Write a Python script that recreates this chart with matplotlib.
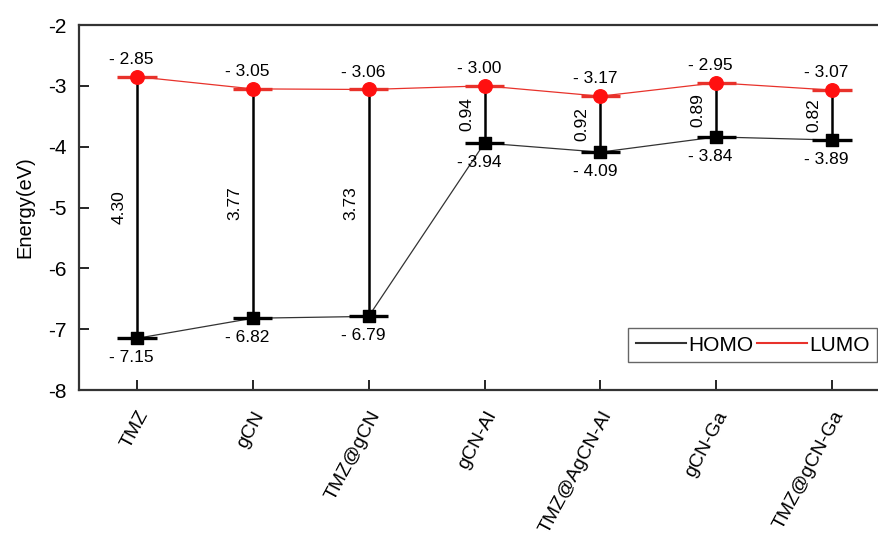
import matplotlib.pyplot as plt
import numpy as np

plt.rcParams['font.family'] = ['Liberation Sans', 'DejaVu Sans']

systems = ['TMZ', 'gCN', 'TMZ@gCN', 'gCN-Al', 'TMZ@AgCN-Al', 'gCN-Ga', 'TMZ@gCN-Ga']
homo = [-7.15, -6.82, -6.79, -3.94, -4.09, -3.84, -3.89]
lumo = [-2.85, -3.05, -3.06, -3.00, -3.17, -2.95, -3.07]
gap = [4.30, 3.77, 3.73, 0.94, 0.92, 0.89, 0.82]

x = np.arange(len(systems))

fig = plt.figure(figsize=(8.79, 5.39), dpi=100)
ax = fig.add_axes([0.0899, 0.2764, 0.9226, 0.6772])

# thin connecting lines
ax.plot(x, homo, color='#333333', lw=0.9, zorder=2, label='HOMO')
ax.plot(x, lumo, color='#e8322b', lw=0.9, zorder=2, label='LUMO')

# vertical gap lines
ax.vlines(x, homo, lumo, color='black', lw=1.8, zorder=3)

# short level bars
hw = 0.17
ax.hlines(homo, x - hw, x + hw, color='black', lw=2.4, zorder=4)
ax.hlines(lumo, x - hw, x + hw, color='#e8322b', lw=2.4, zorder=4)

ax.scatter(x, homo, marker='s', s=70, color='black', zorder=5)
ax.scatter(x, lumo, marker='o', s=95, color='#ff1010', zorder=5)

for xi, h, l, g in zip(x, homo, lumo, gap):
    ax.annotate(f'- {abs(l):.2f}', (xi, l), xytext=(-4, 12.5), textcoords='offset points',
                ha='center', va='center', fontsize=12.5)
    ax.annotate(f'- {abs(h):.2f}', (xi, h), xytext=(-4, -14), textcoords='offset points',
                ha='center', va='center', fontsize=12.5)
    ax.annotate(f'{g:.2f}', (xi, (h + l) / 2), xytext=(-13, 0), textcoords='offset points',
                ha='center', va='center', rotation=90, fontsize=12.5)

ax.set_xlim(-0.5, 6.5)
ax.set_ylim(-8, -2)
ax.set_yticks(np.arange(-8, -1, 1))
ax.set_yticklabels([str(v) for v in range(-8, -1)])
ax.set_xticks(x)
ax.set_xticklabels(systems, rotation=62, ha='right', va='top', rotation_mode='anchor',
                   fontsize=14)
ax.tick_params(axis='x', direction='in', length=7, width=1.2, pad=13)
ax.tick_params(axis='y', direction='in', length=7, width=1.2, labelsize=15, pad=9)
ax.set_ylabel('Energy(eV)', fontsize=14.5, labelpad=10)

for s in ax.spines.values():
    s.set_linewidth(1.6)
    s.set_color('#333333')

leg = ax.legend(loc='lower right', bbox_to_anchor=(0.984, 0.077), borderaxespad=0,
                ncol=2, fontsize=15, handlelength=2.4, handletextpad=0.1,
                columnspacing=0.2, fancybox=False, framealpha=1, borderpad=0.35)
leg.get_frame().set_edgecolor('#666666')
leg.get_frame().set_linewidth(1.0)
for ln in leg.get_lines():
    ln.set_linewidth(1.5)

fig.savefig('out.png', dpi=100)
